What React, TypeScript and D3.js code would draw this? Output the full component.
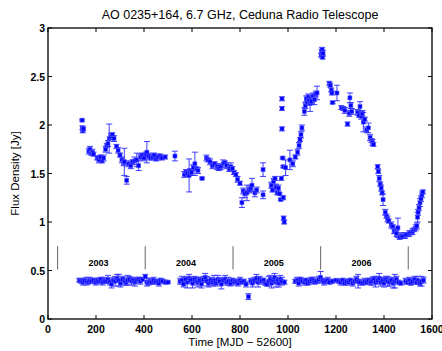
import { useRef, useEffect } from "react";
import * as d3 from "d3";

// [MJD - 52600, flux (Jy), error]
const blazar = [
	[142, 2.05, 0.01], [143, 1.97, 0.02], [145, 1.94, 0.02], [147, 1.96, 0.02],
	[170, 1.73, 0.03], [175, 1.75, 0.03], [180, 1.71, 0.02], [185, 1.72, 0.03], [190, 1.70, 0.02],
	[205, 1.66, 0.02], [212, 1.64, 0.03], [218, 1.67, 0.02], [225, 1.63, 0.02], [232, 1.66, 0.03],
	[240, 1.75, 0.03], [245, 1.79, 0.02], [250, 1.81, 0.03], [255, 1.86, 0.15], [262, 1.88, 0.03],
	[268, 1.90, 0.02], [275, 1.86, 0.03], [285, 1.78, 0.02], [292, 1.74, 0.03], [300, 1.69, 0.02],
	[308, 1.64, 0.03], [315, 1.61, 0.03], [318, 1.62, 0.14], [328, 1.43, 0.04], [335, 1.60, 0.03],
	[345, 1.58, 0.03], [352, 1.62, 0.02], [360, 1.63, 0.04], [370, 1.64, 0.07], [378, 1.58, 0.05],
	[385, 1.67, 0.03], [392, 1.69, 0.02], [400, 1.66, 0.03], [408, 1.70, 0.02], [412, 1.72, 0.11],
	[420, 1.68, 0.03], [428, 1.66, 0.02], [435, 1.67, 0.03], [442, 1.69, 0.02], [450, 1.65, 0.02],
	[458, 1.67, 0.03], [467, 1.68, 0.02], [475, 1.66, 0.02], [488, 1.67, 0.02], [529, 1.68, 0.05],
	[568, 1.49, 0.03], [575, 1.52, 0.02], [580, 1.50, 0.03], [588, 1.48, 0.17], [592, 1.53, 0.02],
	[598, 1.51, 0.03], [605, 1.56, 0.03], [612, 1.60, 0.12], [618, 1.55, 0.02], [625, 1.53, 0.03],
	[642, 1.45, 0.01], [660, 1.66, 0.03], [667, 1.64, 0.02], [675, 1.62, 0.03], [685, 1.58, 0.03],
	[695, 1.60, 0.02], [705, 1.57, 0.03], [712, 1.55, 0.02], [720, 1.57, 0.03], [730, 1.60, 0.04],
	[737, 1.61, 0.02], [745, 1.58, 0.03], [755, 1.55, 0.03], [762, 1.57, 0.04], [768, 1.55, 0.02],
	[775, 1.51, 0.02], [783, 1.49, 0.02], [790, 1.44, 0.03], [800, 1.40, 0.02], [808, 1.20, 0.05],
	[813, 1.32, 0.03], [820, 1.29, 0.04], [829, 1.30, 0.08], [838, 1.33, 0.03], [845, 1.35, 0.03],
	[850, 1.38, 0.07], [862, 1.30, 0.04], [870, 1.33, 0.03], [896, 1.54, 0.07], [896, 1.28, 0.04],
	[930, 1.38, 0.03], [935, 1.33, 0.02], [940, 1.42, 0.03], [946, 1.45, 0.02], [950, 1.36, 0.03],
	[955, 1.30, 0.02], [960, 1.35, 0.03], [965, 1.29, 0.01], [970, 1.23, 0.01],
	[975, 2.27, 0.02], [975, 2.17, 0.02], [975, 1.96, 0.02], [978, 1.66, 0.01], [980, 1.57, 0.01],
	[972, 1.45, 0.02], [982, 1.04, 0.02], [984, 1.00, 0.02], [980, 1.25, 0.02],
	[990, 1.56, 0.08], [1008, 1.64, 0.10], [1020, 1.60, 0.03], [1030, 1.67, 0.02], [1040, 1.72, 0.03],
	[1046, 1.79, 0.03], [1050, 1.85, 0.02], [1054, 1.90, 0.03], [1058, 1.97, 0.03],
	[1068, 2.14, 0.04], [1072, 2.20, 0.03], [1076, 2.27, 0.03], [1080, 2.23, 0.02], [1084, 2.29, 0.03],
	[1088, 2.25, 0.03], [1092, 2.22, 0.08], [1098, 2.24, 0.03], [1104, 2.30, 0.03], [1110, 2.26, 0.05],
	[1116, 2.32, 0.03], [1121, 2.33, 0.07],
	[1138, 2.72, 0.02], [1140, 2.76, 0.02], [1142, 2.78, 0.02], [1144, 2.70, 0.02], [1146, 2.74, 0.03],
	[1172, 2.43, 0.02], [1176, 2.41, 0.02], [1180, 2.36, 0.02], [1183, 2.33, 0.02], [1186, 2.23, 0.01],
	[1204, 2.33, 0.08], [1222, 2.18, 0.02], [1230, 2.17, 0.02], [1237, 2.15, 0.03], [1248, 2.01, 0.02],
	[1255, 2.12, 0.03], [1258, 2.28, 0.05], [1262, 2.20, 0.03], [1266, 2.14, 0.03], [1290, 2.13, 0.03],
	[1296, 2.10, 0.02], [1300, 2.19, 0.05], [1305, 2.09, 0.03], [1310, 2.12, 0.03], [1314, 2.03, 0.10],
	[1320, 2.06, 0.02], [1328, 1.95, 0.03], [1335, 1.97, 0.05], [1342, 1.87, 0.03], [1348, 1.84, 0.02],
	[1352, 1.82, 0.03], [1356, 1.80, 0.02],
	[1374, 1.57, 0.02], [1376, 1.52, 0.02], [1380, 1.45, 0.03], [1384, 1.39, 0.02], [1388, 1.35, 0.03],
	[1392, 1.30, 0.02], [1396, 1.23, 0.06], [1405, 1.10, 0.03], [1410, 1.06, 0.02], [1415, 1.03, 0.03],
	[1420, 1.01, 0.02], [1430, 0.97, 0.03], [1437, 0.95, 0.02], [1442, 0.91, 0.03], [1446, 0.90, 0.02],
	[1452, 0.88, 0.03], [1458, 0.94, 0.10], [1465, 0.84, 0.02], [1472, 0.86, 0.03], [1479, 0.85, 0.02],
	[1488, 0.86, 0.03], [1496, 0.87, 0.02], [1505, 0.88, 0.03], [1512, 0.89, 0.02], [1518, 0.90, 0.03],
	[1525, 0.92, 0.02], [1532, 0.94, 0.03], [1537, 0.96, 0.03], [1540, 1.05, 0.05], [1542, 1.10, 0.03],
	[1546, 1.15, 0.03], [1550, 1.20, 0.04], [1554, 1.24, 0.03], [1558, 1.28, 0.03], [1562, 1.31, 0.02],
];

// calibrator / reference source near 0.4 Jy
const calibrator = [
	[130, 0.40, 0.02], [138, 0.39, 0.02], [145, 0.38, 0.03], [152, 0.40, 0.02], [160, 0.39, 0.04],
	[167, 0.38, 0.02], [175, 0.40, 0.03], [182, 0.39, 0.02], [190, 0.40, 0.02], [198, 0.38, 0.03],
	[205, 0.40, 0.02], [212, 0.39, 0.03], [220, 0.41, 0.02], [228, 0.38, 0.03], [235, 0.40, 0.03],
	[242, 0.39, 0.02], [250, 0.41, 0.04], [258, 0.38, 0.03], [265, 0.36, 0.04], [272, 0.40, 0.03],
	[280, 0.39, 0.05], [288, 0.42, 0.04], [295, 0.40, 0.06], [302, 0.37, 0.04], [310, 0.41, 0.03],
	[318, 0.39, 0.04], [325, 0.38, 0.03], [332, 0.40, 0.05], [340, 0.41, 0.03], [348, 0.39, 0.04],
	[355, 0.40, 0.02], [362, 0.38, 0.04], [370, 0.40, 0.03], [378, 0.41, 0.02], [385, 0.39, 0.03],
	[395, 0.41, 0.02], [405, 0.44, 0.02], [412, 0.38, 0.04], [418, 0.37, 0.02], [425, 0.39, 0.03],
	[432, 0.38, 0.02], [440, 0.40, 0.03], [448, 0.38, 0.02], [455, 0.39, 0.02], [462, 0.37, 0.03],
	[470, 0.40, 0.02], [478, 0.39, 0.02], [490, 0.38, 0.02], [500, 0.38, 0.01],
	[550, 0.39, 0.03], [558, 0.40, 0.04], [565, 0.36, 0.03], [572, 0.41, 0.02], [580, 0.38, 0.06],
	[588, 0.42, 0.04], [595, 0.40, 0.03], [602, 0.37, 0.05], [610, 0.41, 0.03], [618, 0.39, 0.04],
	[625, 0.38, 0.05], [632, 0.40, 0.03], [640, 0.36, 0.04], [648, 0.41, 0.03], [655, 0.43, 0.04],
	[662, 0.39, 0.05], [670, 0.37, 0.04], [678, 0.40, 0.03], [685, 0.38, 0.04], [692, 0.40, 0.05],
	[700, 0.37, 0.03], [708, 0.41, 0.04], [715, 0.39, 0.03], [722, 0.36, 0.05], [730, 0.40, 0.03],
	[738, 0.41, 0.04], [745, 0.38, 0.03], [752, 0.39, 0.04], [760, 0.37, 0.03], [768, 0.40, 0.02],
	[776, 0.38, 0.03], [784, 0.39, 0.02], [792, 0.37, 0.03], [800, 0.40, 0.03], [808, 0.38, 0.02],
	[816, 0.39, 0.02], [825, 0.36, 0.03], [835, 0.23, 0.03], [845, 0.39, 0.03], [852, 0.37, 0.04],
	[860, 0.40, 0.03], [868, 0.42, 0.04], [875, 0.38, 0.05], [882, 0.41, 0.03], [890, 0.39, 0.03],
	[898, 0.40, 0.02], [905, 0.37, 0.02], [912, 0.36, 0.02], [920, 0.39, 0.05], [926, 0.41, 0.04],
	[932, 0.37, 0.05], [938, 0.40, 0.03], [944, 0.43, 0.04], [950, 0.38, 0.05], [956, 0.40, 0.03],
	[962, 0.37, 0.04], [968, 0.41, 0.04], [975, 0.39, 0.04], [985, 0.38, 0.02],
	[1030, 0.39, 0.02], [1038, 0.40, 0.03], [1045, 0.37, 0.03], [1052, 0.41, 0.02], [1060, 0.39, 0.02],
	[1068, 0.38, 0.03], [1075, 0.40, 0.02], [1082, 0.37, 0.02], [1090, 0.39, 0.03], [1098, 0.41, 0.02],
	[1105, 0.40, 0.03], [1112, 0.38, 0.02], [1120, 0.39, 0.02], [1128, 0.41, 0.03], [1136, 0.43, 0.06],
	[1144, 0.40, 0.02], [1150, 0.38, 0.03], [1158, 0.39, 0.02], [1166, 0.40, 0.03], [1174, 0.38, 0.02],
	[1185, 0.39, 0.02], [1200, 0.40, 0.01], [1212, 0.39, 0.02], [1220, 0.38, 0.03], [1228, 0.40, 0.02],
	[1236, 0.37, 0.02], [1244, 0.39, 0.02], [1252, 0.38, 0.03], [1260, 0.40, 0.02], [1270, 0.37, 0.03],
	[1278, 0.39, 0.02], [1285, 0.41, 0.03], [1292, 0.39, 0.07], [1300, 0.38, 0.03], [1312, 0.37, 0.02],
	[1320, 0.39, 0.03], [1328, 0.38, 0.02], [1336, 0.40, 0.02], [1344, 0.38, 0.03], [1350, 0.39, 0.04],
	[1358, 0.41, 0.03], [1365, 0.38, 0.05], [1372, 0.40, 0.04], [1380, 0.42, 0.05], [1387, 0.38, 0.04],
	[1394, 0.40, 0.03], [1400, 0.37, 0.04], [1408, 0.41, 0.03], [1415, 0.39, 0.05], [1422, 0.38, 0.04],
	[1430, 0.40, 0.03], [1438, 0.37, 0.05], [1445, 0.39, 0.07], [1452, 0.41, 0.03], [1460, 0.38, 0.02],
	[1470, 0.37, 0.02], [1490, 0.39, 0.03], [1497, 0.38, 0.02], [1505, 0.40, 0.03], [1512, 0.37, 0.02],
	[1520, 0.39, 0.03], [1528, 0.41, 0.03], [1535, 0.38, 0.02], [1542, 0.40, 0.04], [1550, 0.37, 0.03],
	[1557, 0.39, 0.05], [1565, 0.40, 0.03],
];

// start of each year (MJD - 52600)
const yearStarts = [40, 405, 771, 1136, 1501];
const yearLabels = ["2003", "2004", "2005", "2006"];
const xTicks = [0, 200, 400, 600, 800, 1000, 1200, 1400, 1600];
const yTicks = [0, 0.5, 1, 1.5, 2, 2.5, 3];

export default function App() {
	const svgRef = useRef(null);

	useEffect(() => {
		const width = 442, height = 351;
		const margin = { top: 28, right: 10, bottom: 32, left: 48 };
		const font = "'Liberation Sans', Arial, Helvetica, sans-serif";

		const svg = d3.select(svgRef.current)
			.attr("width", width)
			.attr("height", height)
			.style("font-family", font);

		const x = d3.scaleLinear().domain([0, 1600]).range([margin.left, width - margin.right]);
		const y = d3.scaleLinear().domain([0, 3]).range([height - margin.bottom, margin.top]);

		const x0 = x(0), x1 = x(1600), y0 = y(0), y1 = y(3);

		// plot box
		svg.append("rect")
			.attr("x", x0).attr("y", y1)
			.attr("width", x1 - x0).attr("height", y0 - y1)
			.attr("fill", "white").attr("stroke", "black").attr("stroke-width", 1.3);

		// inward ticks, all four sides
		const tk = 4;
		xTicks.forEach((t) => {
			svg.append("line").attr("x1", x(t)).attr("x2", x(t)).attr("y1", y0).attr("y2", y0 - tk).attr("stroke", "black");
			svg.append("line").attr("x1", x(t)).attr("x2", x(t)).attr("y1", y1).attr("y2", y1 + tk).attr("stroke", "black");
			svg.append("text")
				.attr("x", x(t)).attr("y", y0 + 14)
				.attr("text-anchor", "middle")
				.attr("font-size", 10.5).attr("font-weight", "bold")
				.text(t);
		});
		yTicks.forEach((t) => {
			svg.append("line").attr("x1", x0).attr("x2", x0 + tk).attr("y1", y(t)).attr("y2", y(t)).attr("stroke", "black");
			svg.append("line").attr("x1", x1).attr("x2", x1 - tk).attr("y1", y(t)).attr("y2", y(t)).attr("stroke", "black");
			svg.append("text")
				.attr("x", x0 - 3).attr("y", y(t) + 4)
				.attr("text-anchor", "end")
				.attr("font-size", 10.5).attr("font-weight", "bold")
				.text(d3.format("~g")(t));
		});

		// year boundaries and labels
		yearStarts.forEach((d) => {
			svg.append("line")
				.attr("x1", x(d)).attr("x2", x(d))
				.attr("y1", y(0.51)).attr("y2", y(0.75))
				.attr("stroke", "#666").attr("stroke-width", 1);
		});
		yearLabels.forEach((lab, i) => {
			svg.append("text")
				.attr("x", x((yearStarts[i] + yearStarts[i + 1]) / 2) - 3)
				.attr("y", y(0.58) + 3.5)
				.attr("text-anchor", "middle")
				.attr("font-size", 9).attr("font-weight", "bold")
				.text(lab);
		});

		// error bars + square markers
		const blue = "#0000ff";
		const drawSeries = (data) => {
			const g = svg.append("g");
			const cap = 3;
			data.forEach(([t, f, e]) => {
				const cx = x(t);
				const ya = y(f + e), yb = y(f - e);
				g.append("path")
					.attr("d", `M${cx},${ya}V${yb}M${cx - cap},${ya}H${cx + cap}M${cx - cap},${yb}H${cx + cap}`)
					.attr("stroke", "#2a2aff").attr("stroke-width", 0.9).attr("fill", "none");
				g.append("rect")
					.attr("x", cx - 2).attr("y", y(f) - 2)
					.attr("width", 4).attr("height", 4)
					.attr("fill", blue)
					.attr("stroke", "#5a5aff").attr("stroke-width", 0.6);
			});
		};
		drawSeries(calibrator);
		drawSeries(blazar);

		// title
		svg.append("text")
			.attr("x", 240).attr("y", 19)
			.attr("text-anchor", "middle")
			.attr("font-size", 12.5)
			.text("AO 0235+164, 6.7 GHz, Ceduna Radio Telescope");

		// X-axis label
		svg.append("text")
			.attr("x", 240).attr("y", 346)
			.attr("text-anchor", "middle")
			.attr("font-size", 11.5)
			.text("Time [MJD \u2212 52600]");

		// Y-axis label
		svg.append("text")
			.attr("transform", `translate(19,${(y0 + y1) / 2}) rotate(-90)`)
			.attr("text-anchor", "middle")
			.attr("font-size", 11.5)
			.text("Flux Density [Jy]");

		return () => {
			d3.select(svgRef.current).selectAll("*").remove();
		};
	}, []);

	return (
		<div style={{ position: "absolute", left: 0, top: 0 }}>
			<svg ref={svgRef}></svg>
		</div>
	);
}
